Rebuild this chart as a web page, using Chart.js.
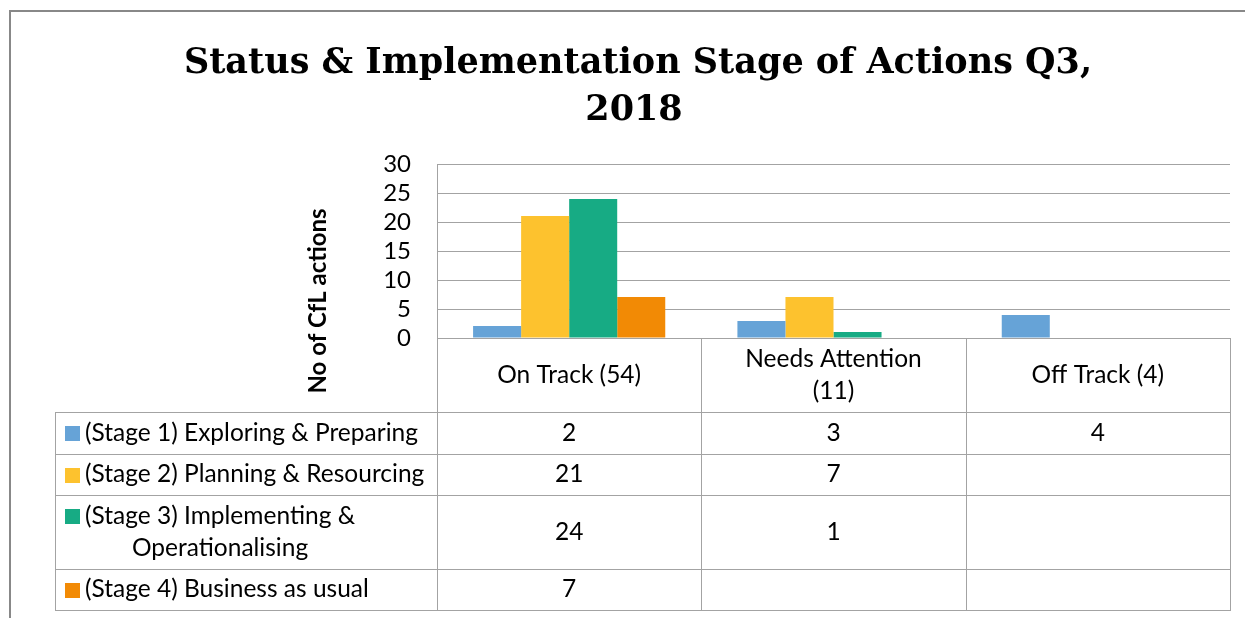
<!DOCTYPE html>
<html>
<head>
<meta charset="utf-8">
<script src="https://cdn.jsdelivr.net/npm/chart.js@4"></script>
<style>
  html, body { margin: 0; padding: 0; background: #fff; }
  #wrap { width: 1245px; height: 618px; position: relative; }
</style>
</head>
<body>
<div id="wrap"><canvas id="statusChart"></canvas></div>
<script>
// Categories (table header cells), multi-line where the reference wraps
const categories = [['On Track (54)'], ['Needs Attention', '(11)'], ['Off Track (4)']];

// Series names (data table rows)
const seriesNames = [
    ['(Stage 1) Exploring & Preparing'],
    ['(Stage 2) Planning & Resourcing'],
    ['(Stage 3) Implementing &', 'Operationalising'],
    ['(Stage 4) Business as usual']
];

// Values per series, null = empty cell
const stage1 = [2, 3, 4];
const stage2 = [21, 7, null];
const stage3 = [24, 1, null];
const stage4 = [7, null, null];

// Y axis ticks
const yTicks = [0, 5, 10, 15, 20, 25, 30];

const titleLines = ['Status & Implementation Stage of Actions Q3,', '2018'];
const yTitle = 'No of CfL actions';

const seriesColors = ['#66a3d7', '#fdc22e', '#17ab84', '#f28a05'];
const lineColor = '#a3a3a3';
const textFont = '24.5px Lato';

// Draws title, y title, outer frame and the data table under the plot
const tablePlugin = {
    id: 'tablePlugin',
    afterDraw(chart) {
        const ctx = chart.ctx;
        const area = chart.chartArea;
        const xs = chart.scales.x;
        const colW = (area.right - area.left) / categories.length;
        const tableLeft = 55;
        const headerH = 74;
        const rowH = [42, 41, 74, 41];
        const lineH = 32;

        ctx.save();

        // outer frame
        ctx.strokeStyle = '#888';
        ctx.lineWidth = 2;
        ctx.beginPath();
        ctx.moveTo(10, 640);
        ctx.lineTo(10, 11);
        ctx.lineTo(1260, 11);
        ctx.stroke();

        // title
        ctx.fillStyle = '#000';
        ctx.font = 'bold 35px "DejaVu Serif"';
        ctx.textAlign = 'center';
        ctx.textBaseline = 'alphabetic';
        ctx.fillText(titleLines[0], 638, 73);
        ctx.fillText(titleLines[1], 634, 120);

        // y axis title
        ctx.save();
        ctx.translate(318, 301);
        ctx.rotate(-Math.PI / 2);
        ctx.font = 'bold 24px Lato';
        ctx.textBaseline = 'middle';
        ctx.fillText(yTitle, 0, 0);
        ctx.restore();

        // table grid
        const yTop = area.bottom;
        const rowEdges = [yTop + headerH];
        rowH.forEach(h => rowEdges.push(rowEdges[rowEdges.length - 1] + h));
        const yEnd = rowEdges[rowEdges.length - 1];

        ctx.strokeStyle = lineColor;
        ctx.lineWidth = 1;
        ctx.beginPath();
        for (let i = 0; i <= categories.length; i++) {
            const x = Math.round(area.left + i * colW) + 0.5;
            ctx.moveTo(x, yTop);
            ctx.lineTo(x, yEnd);
        }
        ctx.moveTo(tableLeft + 0.5, rowEdges[0]);
        ctx.lineTo(tableLeft + 0.5, yEnd);
        rowEdges.forEach(y => {
            ctx.moveTo(tableLeft, y + 0.5);
            ctx.lineTo(area.right + 1, y + 0.5);
        });
        ctx.stroke();

        ctx.fillStyle = '#000';
        ctx.font = textFont;
        ctx.textAlign = 'center';
        ctx.textBaseline = 'middle';

        // header cells
        categories.forEach((lines, i) => {
            const cx = xs.getPixelForValue(i);
            const cy = yTop + headerH / 2;
            lines.forEach((t, k) => {
                ctx.fillText(t, cx, cy + (k - (lines.length - 1) / 2) * lineH);
            });
        });

        // rows: legend key + values
        chart.data.datasets.forEach((ds, r) => {
            const cy = (rowEdges[r] + rowEdges[r + 1]) / 2;
            const lines = seriesNames[r];
            const firstY = cy - (lines.length - 1) / 2 * lineH;
            ctx.fillStyle = ds.backgroundColor;
            ctx.fillRect(65, Math.round(firstY - 7), 15, 15);
            ctx.fillStyle = '#000';
            ctx.textAlign = 'left';
            if (lines.length === 1) {
                ctx.fillText(lines[0], 85, cy);
            } else {
                const w = Math.max(...lines.map(t => ctx.measureText(t).width));
                lines.forEach((t, k) => {
                    const tw = ctx.measureText(t).width;
                    ctx.fillText(t, 85 + (w - tw) / 2, firstY + k * lineH);
                });
            }
            ctx.textAlign = 'center';
            ds.data.forEach((v, i) => {
                if (v !== null) ctx.fillText(String(v), xs.getPixelForValue(i), cy);
            });
        });

        ctx.restore();
    }
};

const ctx = document.getElementById('statusChart').getContext('2d');
const statusChart = new Chart(ctx, {
    type: 'bar',
    data: {
        labels: categories,
        datasets: [
            { label: seriesNames[0].join(' '), data: stage1, backgroundColor: seriesColors[0] },
            { label: seriesNames[1].join(' '), data: stage2, backgroundColor: seriesColors[1] },
            { label: seriesNames[2].join(' '), data: stage3, backgroundColor: seriesColors[2] },
            { label: seriesNames[3].join(' '), data: stage4, backgroundColor: seriesColors[3] }
        ]
    },
    options: {
        responsive: true,
        maintainAspectRatio: false,
        animation: false,
        datasets: {
            bar: { categoryPercentage: 0.727, barPercentage: 1.0 }
        },
        layout: { padding: { top: 164, bottom: 280, left: 0, right: 15 } },
        plugins: {
            legend: { display: false },
            title: { display: false },
            tooltip: { enabled: false }
        },
        scales: {
            x: { display: false },
            y: {
                min: yTicks[0],
                max: yTicks[yTicks.length - 1],
                alignToPixels: true,
                afterFit(scale) { scale.width = 437; },
                afterBuildTicks(scale) { scale.ticks = yTicks.map(v => ({ value: v })); },
                ticks: { font: { family: 'Lato', size: 24 }, color: '#000', padding: 26, autoSkip: false },
                grid: { color: lineColor, drawTicks: false },
                border: { color: lineColor }
            }
        }
    },
    plugins: [tablePlugin]
});
</script>
</body>
</html>
